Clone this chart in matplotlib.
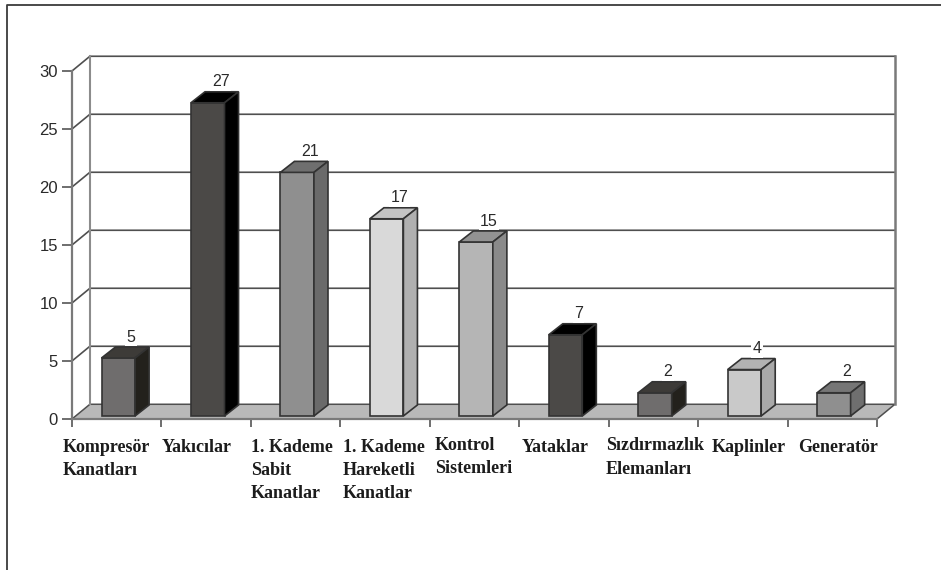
import matplotlib
matplotlib.use("Agg")
import matplotlib.pyplot as plt
from matplotlib.lines import Line2D
from matplotlib.patches import Polygon

# Ariza sayilari
kategoriler = ["Kompresör\nKanatları", "Yakıcılar", "1. Kademe\nSabit\nKanatlar",
               "1. Kademe\nHareketli\nKanatlar", "Kontrol\nSistemleri", "Yataklar",
               "Sızdırmazlık\nElemanları", "Kaplinler", "Generatör"]
degerler = [5, 27, 21, 17, 15, 7, 2, 4, 2]
y_ticks = [0, 5, 10, 15, 20, 25, 30]

# on, ust, yan yuz renkleri
on_renk = ["#6f6d6d", "#4b4947", "#8f8f8f", "#d9d9d9", "#b5b5b5", "#4b4947", "#6f6d6d", "#c9c9c9", "#8f8f8f"]
ust_renk = ["#3d3b38", "#000000", "#6f6f6f", "#c4c4c4", "#929292", "#000000", "#3d3b38", "#b2b2b2", "#767676"]
yan_renk = ["#23211c", "#000000", "#6a6a6a", "#b0b0b0", "#8a8a8a", "#000000", "#23211c", "#a9a9a9", "#6f6f6f"]

# etiketlerin sol kenari ve ilk satir ortasi (piksel)
etiket_x = [63, 162, 251, 343, 435, 522, 606, 712, 798]
etiket_y = [447, 447, 447, 447, 445, 447, 446, 447, 447]

W, H = 941, 570
fig = plt.figure(figsize=(W / 100, H / 100), dpi=100, facecolor="white")
ax = fig.add_axes([72 / W, (H - 419) / H, (877 - 72) / W, (419 - 71) / H])
ax.set_xlim(0, 9)
ax.set_ylim(0, 30)
ax.patch.set_visible(False)

# perspektif kaymasi
dx, dy = 0.2, 1.27
bar_w, bar_dx, bar_dy = 0.375, 0.157, 0.95
bar_sol, taban = 0.33, 0.26

koyu = "#4f4f4f"
gri = "#7a7a7a"

# zemin
ax.add_patch(Polygon([(0, 0), (9, 0), (9 + dx, dy), (dx, dy)], closed=True, fc="#b9b9b9",
                     ec=koyu, lw=1.1, zorder=1, clip_on=False))

# arka duvar ve izgara
for v in y_ticks[1:]:
    ax.add_line(Line2D([0, dx, 9 + dx], [v, v + dy, v + dy], color=koyu, lw=1.2, zorder=1, clip_on=False))
ax.add_line(Line2D([dx, dx], [dy, 30 + dy], color="#8c8c8c", lw=1.5, zorder=1, clip_on=False))
ax.add_line(Line2D([9 + dx, 9 + dx], [dy, 30 + dy], color=gri, lw=1.8, zorder=1, clip_on=False))

# cubuklar
for i, v in enumerate(degerler):
    x0 = i + bar_sol
    x1 = x0 + bar_w
    y0 = taban
    y1 = taban + v
    ax.add_patch(Polygon([(x0, y0), (x1, y0), (x1, y1), (x0, y1)], closed=True,
                         fc=on_renk[i], ec="#333333", lw=1.2, zorder=3, clip_on=False))
    ax.add_patch(Polygon([(x0, y1), (x1, y1), (x1 + bar_dx, y1 + bar_dy), (x0 + bar_dx, y1 + bar_dy)], closed=True,
                         fc=ust_renk[i], ec="#333333", lw=1.2, zorder=3, clip_on=False))
    ax.add_patch(Polygon([(x1, y0), (x1 + bar_dx, y0 + bar_dy), (x1 + bar_dx, y1 + bar_dy), (x1, y1)], closed=True,
                         fc=yan_renk[i], ec="#333333", lw=1.2, zorder=3, clip_on=False))
    ax.text(x0 + bar_w / 2 + 0.145, y1 + bar_dy + 0.85, str(v), ha="center", va="center",
            fontsize=11.5, family="Liberation Sans", color="#2a2a2a", zorder=4,
            bbox=dict(fc="white", ec="none", pad=1))

# eksenler
for s in ["top", "right"]:
    ax.spines[s].set_visible(False)
for s in ["left", "bottom"]:
    ax.spines[s].set_color(gri)
    ax.spines[s].set_linewidth(1.6)
    ax.spines[s].set_zorder(2)
ax.set_yticks(y_ticks)
ax.set_xticks(range(10))
ax.set_xticklabels([])
ax.tick_params(axis="y", length=7, width=1.2, color="#555555", labelsize=12, labelcolor="#2a2a2a", pad=3)
ax.tick_params(axis="x", length=6, width=1.2, color="#555555")
for t in ax.get_yticklabels():
    t.set_family("Liberation Sans")

# kategori etiketleri
for ad, x, y in zip(kategoriler, etiket_x, etiket_y):
    for j, satir in enumerate(ad.split("\n")):
        fig.text(x / W, 1 - (y + j * 23.2) / H, satir, ha="left", va="center", fontsize=13,
                 family="Liberation Serif", weight="bold", color="#1c1c1c")

# dis cerceve
fig.add_artist(Line2D([6.5 / W, 6.5 / W, 1], [0, 1 - 5 / H, 1 - 5 / H], color="#3a3a3a", lw=1.3))

fig.savefig("out.png", dpi=100)
